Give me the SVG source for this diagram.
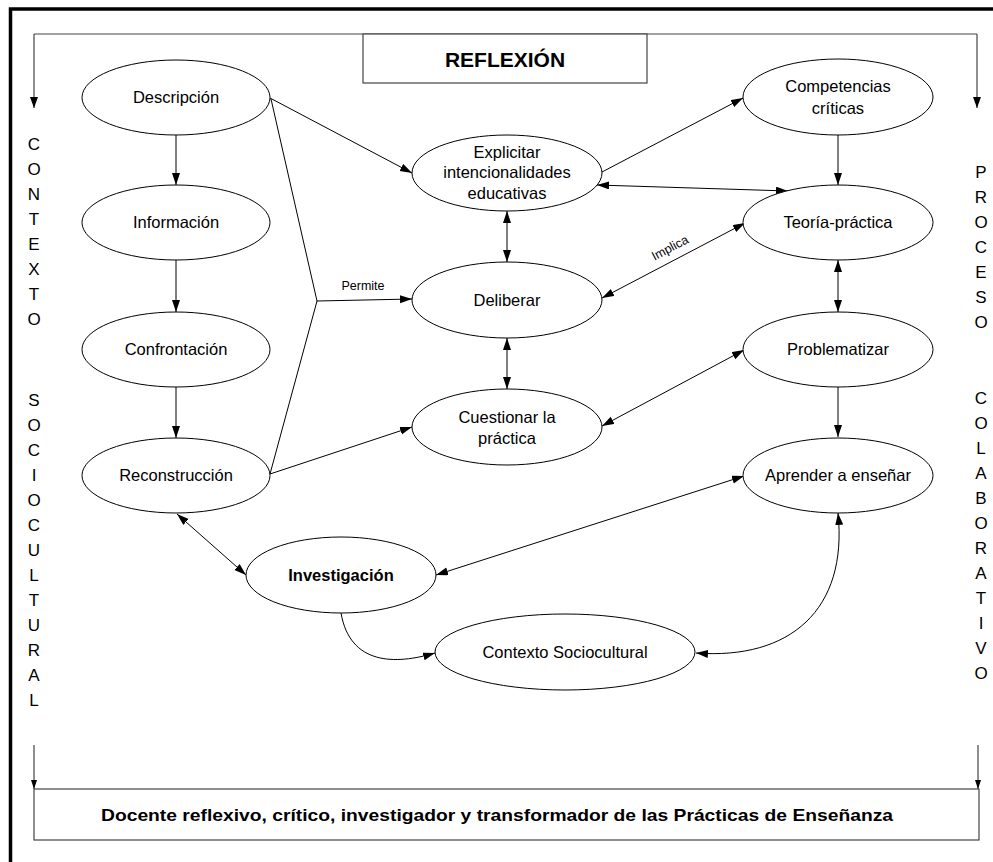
<svg xmlns="http://www.w3.org/2000/svg" width="993" height="862" viewBox="0 0 993 862">
<defs>
<marker id="ah" markerUnits="userSpaceOnUse" markerWidth="13" markerHeight="9" refX="12" refY="4" orient="auto-start-reverse"><path d="M0,0 L12,4 L0,8 z" fill="#000"/></marker>
<marker id="sm" markerUnits="userSpaceOnUse" markerWidth="12" markerHeight="9" refX="11" refY="4" orient="auto"><path d="M0,0 L11,4 L0,8 z" fill="#000"/></marker>
<marker id="xs" markerUnits="userSpaceOnUse" markerWidth="9" markerHeight="7" refX="9" refY="3" orient="auto"><path d="M0,0 L9,3 L0,6 z" fill="#000"/></marker>
</defs>
<style>
.n ellipse{fill:#fff;stroke:#000;stroke-width:1}
.t{font-family:"Liberation Sans",Arial,sans-serif;font-size:16.5px;text-anchor:middle;fill:#000}
.b{font-weight:bold}
.c line,.c path,.c polyline{stroke:#000;stroke-width:1;fill:none}
.v{font-family:"Liberation Sans",Arial,sans-serif;font-size:17px;text-anchor:middle;fill:#000}
.fr{stroke:#444;stroke-width:1.2;fill:none}
</style>
<rect width="993" height="862" fill="#fff"/>
<rect x="10.5" y="9" width="1000" height="1000" fill="none" stroke="#000" stroke-width="3.5"/>

<g id="frame">
<line class="fr" x1="34" y1="34" x2="977" y2="34"/>
<line class="fr" x1="34" y1="34" x2="34" y2="108" marker-end="url(#sm)"/>
<line class="fr" x1="977" y1="34" x2="977" y2="108" marker-end="url(#sm)"/>
<line class="fr" x1="34" y1="745" x2="34" y2="789" marker-end="url(#xs)"/>
<line class="fr" x1="978" y1="745" x2="978" y2="789" marker-end="url(#xs)"/>
</g>

<g id="reflexion">
<rect x="363" y="34" width="284" height="49" fill="#fff" stroke="#444" stroke-width="1.2"/>
<text class="t b" x="505" y="67" style="font-size:21px">REFLEXIÓN</text>
</g>

<g id="col-left" class="v">
<text x="34" y="150">C</text><text x="34" y="175">O</text><text x="34" y="200">N</text><text x="34" y="225">T</text><text x="34" y="250">E</text><text x="34" y="275">X</text><text x="34" y="300">T</text><text x="34" y="325">O</text>
<text x="34" y="406">S</text><text x="34" y="431">O</text><text x="34" y="456">C</text><text x="34" y="481">I</text><text x="34" y="506">O</text><text x="34" y="531">C</text><text x="34" y="556">U</text><text x="34" y="581">L</text><text x="34" y="606">T</text><text x="34" y="631">U</text><text x="34" y="656">R</text><text x="34" y="681">A</text><text x="34" y="706">L</text>
</g>
<g id="col-right" class="v">
<text x="981" y="178">P</text><text x="981" y="203">R</text><text x="981" y="228">O</text><text x="981" y="253">C</text><text x="981" y="278">E</text><text x="981" y="303">S</text><text x="981" y="328">O</text>
<text x="981" y="404">C</text><text x="981" y="429">O</text><text x="981" y="454">L</text><text x="981" y="479">A</text><text x="981" y="504">B</text><text x="981" y="529">O</text><text x="981" y="554">R</text><text x="981" y="579">A</text><text x="981" y="604">T</text><text x="981" y="629">I</text><text x="981" y="654">V</text><text x="981" y="679">O</text>
</g>

<g id="connectors" class="c">
<line x1="176" y1="135" x2="176" y2="185" marker-end="url(#ah)"/>
<line x1="176" y1="260" x2="176" y2="312" marker-end="url(#ah)"/>
<line x1="176" y1="387" x2="176" y2="438" marker-end="url(#ah)"/>
<line x1="270" y1="98" x2="412" y2="173" marker-end="url(#ah)"/>
<polyline points="271,99 317,301 270,474"/>
<line x1="317" y1="301" x2="412" y2="299" marker-end="url(#ah)"/>
<line x1="270" y1="474" x2="412" y2="427" marker-end="url(#ah)"/>
<line x1="602" y1="172" x2="743" y2="98" marker-end="url(#ah)"/>
<line x1="597" y1="185" x2="788" y2="191" marker-start="url(#ah)" marker-end="url(#ah)"/>
<line x1="838" y1="135" x2="838" y2="185" marker-end="url(#ah)"/>
<line x1="602" y1="298" x2="745" y2="223" marker-start="url(#ah)" marker-end="url(#ah)"/>
<line x1="507" y1="211" x2="507" y2="262" marker-start="url(#ah)" marker-end="url(#ah)"/>
<line x1="507" y1="338" x2="507" y2="389" marker-start="url(#ah)" marker-end="url(#ah)"/>
<line x1="838" y1="260" x2="838" y2="312" marker-start="url(#ah)" marker-end="url(#ah)"/>
<line x1="602" y1="426" x2="744" y2="350" marker-start="url(#ah)" marker-end="url(#ah)"/>
<line x1="838" y1="387" x2="838" y2="437" marker-end="url(#ah)"/>
<line x1="177" y1="514" x2="246" y2="575" marker-start="url(#ah)" marker-end="url(#ah)"/>
<line x1="436" y1="575" x2="744" y2="476" marker-start="url(#ah)" marker-end="url(#ah)"/>
<path d="M341,613 C350,665 395,665 435,653" marker-end="url(#ah)"/>
<path d="M838,513 C848,610 790,660 696,653" marker-start="url(#ah)" marker-end="url(#ah)"/>
<text class="t" x="363" y="290" style="font-size:12.5px">Permite</text>
<text class="t" x="670" y="252" style="font-size:12.5px" transform="rotate(-28 670 248)">Implica</text>
</g>

<g id="descripcion" class="n"><ellipse cx="176" cy="97.5" rx="94" ry="37.5"/><text class="t" x="176" y="103">Descripción</text></g>
<g id="informacion" class="n"><ellipse cx="176" cy="222.5" rx="94" ry="37.5"/><text class="t" x="176" y="228">Información</text></g>
<g id="confrontacion" class="n"><ellipse cx="176" cy="349.5" rx="94" ry="37.5"/><text class="t" x="176" y="355">Confrontación</text></g>
<g id="reconstruccion" class="n"><ellipse cx="176" cy="475.5" rx="94" ry="37.5"/><text class="t" x="176" y="481">Reconstrucción</text></g>
<g id="explicitar" class="n"><ellipse cx="507" cy="173" rx="95" ry="38"/><text class="t" x="507" y="158">Explicitar</text><text class="t" x="507" y="178">intencionalidades</text><text class="t" x="507" y="199">educativas</text></g>
<g id="deliberar" class="n"><ellipse cx="507" cy="300" rx="95" ry="38"/><text class="t" x="507" y="306">Deliberar</text></g>
<g id="cuestionar" class="n"><ellipse cx="507" cy="427" rx="95" ry="38"/><text class="t" x="507" y="423">Cuestionar la</text><text class="t" x="507" y="444">práctica</text></g>
<g id="competencias" class="n"><ellipse cx="838" cy="97" rx="95" ry="38"/><text class="t" x="838" y="92">Competencias</text><text class="t" x="838" y="114">críticas</text></g>
<g id="teoria" class="n"><ellipse cx="838" cy="222.5" rx="95" ry="37.5"/><text class="t" x="838" y="228">Teoría-práctica</text></g>
<g id="problematizar" class="n"><ellipse cx="838" cy="349.5" rx="95" ry="37.5"/><text class="t" x="838" y="355">Problematizar</text></g>
<g id="aprender" class="n"><ellipse cx="838" cy="475.5" rx="95" ry="37.5"/><text class="t" x="838" y="481">Aprender a enseñar</text></g>
<g id="investigacion" class="n"><ellipse cx="341" cy="575" rx="95" ry="38"/><text class="t b" x="341" y="581">Investigación</text></g>
<g id="contexto" class="n"><ellipse cx="565" cy="652" rx="130" ry="38"/><text class="t" x="565" y="658">Contexto Sociocultural</text></g>

<g id="docente">
<rect x="34" y="789" width="945" height="51" fill="#fff" stroke="#444" stroke-width="1.2"/>
<text class="t b" x="497" y="821" style="font-size:17px" textLength="792" lengthAdjust="spacingAndGlyphs">Docente reflexivo, crítico, investigador y transformador de las Prácticas de Enseñanza</text>
</g>
</svg>
